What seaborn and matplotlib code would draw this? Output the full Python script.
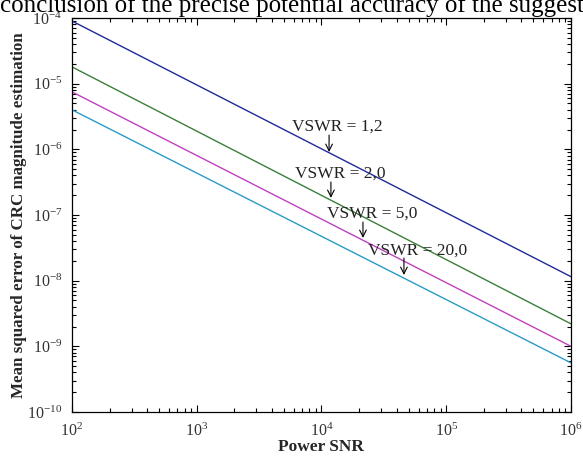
import matplotlib
matplotlib.use("Agg")
import matplotlib.pyplot as plt
import numpy as np
import pandas as pd
import seaborn as sns
from matplotlib.ticker import LogLocator, LogFormatterSciNotation, NullFormatter

# values (end points of each straight log-log line)
snr = [1e2, 1e6]
mse_vswr_1_2 = [9.0e-5, 1.15e-8]
mse_vswr_2_0 = [1.8e-5, 2.2e-9]
mse_vswr_5_0 = [7.5e-6, 1.0e-9]
mse_vswr_20_0 = [4.0e-6, 5.6e-10]
series_names = ["VSWR = 1,2", "VSWR = 2,0", "VSWR = 5,0", "VSWR = 20,0"]
line_colors = ["#1f2a9a", "#3b7f3b", "#c040c0", "#2a9ac8"]

# label placement (data coords): text centre x, text baseline y
label_x = [1.33e4, 1.41e4, 2.54e4, 5.94e4]
label_y = [1.9e-6, 3.66e-7, 9.0e-8, 2.46e-8]
# arrows: x, start y, tip y
arrow_x = [1.15e4, 1.19e4, 2.15e4, 4.58e4]
arrow_from = [1.65e-6, 3.18e-7, 7.8e-8, 2.21e-8]
arrow_to = [9.1e-7, 1.82e-7, 4.47e-8, 1.22e-8]


def main():
    sns.set_theme(style="ticks")
    plt.rcParams["font.family"] = ["Liberation Serif", "DejaVu Serif"]
    plt.rcParams["mathtext.fontset"] = "custom"
    plt.rcParams["mathtext.rm"] = "Liberation Sans"
    plt.rcParams["mathtext.it"] = "Liberation Sans"
    plt.rcParams["mathtext.default"] = "regular"

    all_y = [mse_vswr_1_2, mse_vswr_2_0, mse_vswr_5_0, mse_vswr_20_0]
    df = pd.DataFrame({
        "snr": snr * 4,
        "mse": sum(all_y, []),
        "series": [n for n in series_names for _ in snr],
    })

    fig = plt.figure(figsize=(5.83, 4.57), dpi=100)
    ax = fig.add_axes([0.1235, 0.0985, 0.8559, 0.8621])

    sns.lineplot(data=df, x="snr", y="mse", hue="series", palette=line_colors,
                 linewidth=1.0, legend=False, ax=ax)

    ax.set_xscale("log")
    ax.set_yscale("log")
    ax.set_xlim(1e2, 1e6)
    ax.set_ylim(1e-10, 1e-4)
    ax.xaxis.set_major_locator(LogLocator(base=10, numticks=10))
    ax.yaxis.set_major_locator(LogLocator(base=10, numticks=10))
    ax.xaxis.set_minor_locator(LogLocator(base=10, subs=np.arange(2, 10), numticks=20))
    ax.yaxis.set_minor_locator(LogLocator(base=10, subs=np.arange(2, 10), numticks=20))
    ax.xaxis.set_minor_formatter(NullFormatter())
    ax.yaxis.set_minor_formatter(NullFormatter())
    ax.xaxis.set_major_formatter(LogFormatterSciNotation())
    ax.yaxis.set_major_formatter(LogFormatterSciNotation())
    ax.tick_params(which="both", direction="in", top=True, right=True,
                   colors="black", labelsize=11.5, width=0.8)
    ax.tick_params(axis="both", labelcolor="#333333")
    ax.tick_params(which="major", length=5)
    ax.tick_params(which="minor", length=3)
    ax.tick_params(axis="x", pad=8)
    ax.tick_params(axis="y", pad=7)
    for sp in ax.spines.values():
        sp.set_color("black")
        sp.set_linewidth(0.9)

    ax.set_xlabel("Power SNR", fontsize=12.5, fontweight="bold", labelpad=-1)
    ax.set_ylabel("Mean squared error of CRC magnitude estimation",
                  fontsize=12.2, fontweight="bold", labelpad=0)

    # annotations with arrows pointing down to each line
    for i, name in enumerate(series_names):
        ax.annotate("", xy=(arrow_x[i], arrow_to[i]), xytext=(arrow_x[i], arrow_from[i]),
                    arrowprops=dict(arrowstyle="->", color="black", lw=0.8,
                                    shrinkA=0, shrinkB=0))
        ax.text(label_x[i], label_y[i], name, fontsize=12.5, ha="center",
                va="baseline", color="#222222")

    fig.text(0.0, 1 - 12 / 457, "conclusion of the precise potential accuracy of the suggest",
             fontsize=18.0, ha="left", va="baseline", color="black")

    fig.savefig("out.png", dpi=100, facecolor="white")


if __name__ == "__main__":
    main()
